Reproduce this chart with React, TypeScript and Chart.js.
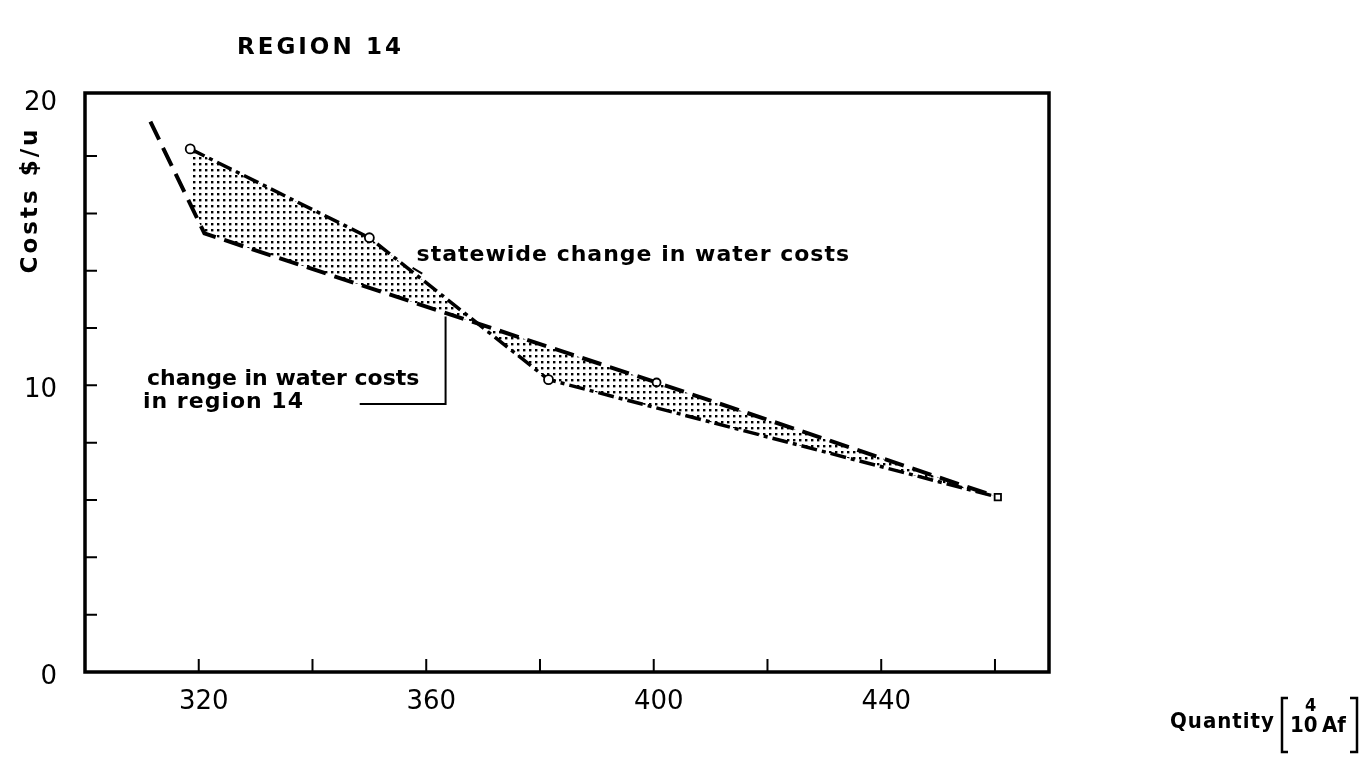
import React, { useEffect, useRef } from "react";
import { Chart, registerables } from "chart.js";

Chart.register(...registerables);

// ---- data ----
const statewideX = [318.5, 350, 381.5, 460.5];
const statewideY = [18.25, 15.15, 10.2, 6.1];
const regionX = [311.5, 321, 400.5, 460.5];
const regionY = [19.2, 15.3, 10.1, 6.1];

const xTickValues = [320, 340, 360, 380, 400, 420, 440, 460];
const xTickLabels = ["320", "", "360", "", "400", "", "440", ""];
const yTickValues = [0, 2, 4, 6, 8, 10, 12, 14, 16, 18, 20];
const yTickLabels = ["0", "", "", "", "", "10", "", "", "", "", "20"];

const titleText = "REGION";
const titleNumber = "14";
const yTitle = "Costs $/u";
const statewideLabel = "statewide change in water costs";
const regionLabelLines = ["change in water costs", "in region 14"];

const FONT = '"DejaVu Sans", sans-serif';
const FONT_C = '"DejaVu Sans Condensed", "DejaVu Sans", sans-serif';

function makeStipple(): CanvasPattern | string {
  const c = document.createElement("canvas");
  c.width = 6;
  c.height = 6;
  const p = c.getContext("2d");
  if (!p) return "rgba(0,0,0,0.3)";
  p.fillStyle = "#000";
  p.fillRect(1, 1, 2.4, 2.4);
  const pat = p.createPattern(c, "repeat");
  return pat || "rgba(0,0,0,0.3)";
}

const decorPlugin = {
  id: "decor",
  afterDraw(chart: any) {
    const { ctx, chartArea } = chart;
    const xs = chart.scales.x;
    const ys = chart.scales.y;
    const { left, right, top, bottom } = chartArea;
    ctx.save();
    ctx.strokeStyle = "#000";
    ctx.fillStyle = "#000";

    // frame
    ctx.lineWidth = 3.5;
    ctx.strokeRect(left, top, right - left, bottom - top);

    // inward ticks
    ctx.lineWidth = 2;
    ctx.beginPath();
    xTickValues.forEach((v) => {
      const px = xs.getPixelForValue(v);
      ctx.moveTo(px, bottom);
      ctx.lineTo(px, bottom - 13);
    });
    yTickValues.forEach((v) => {
      const py = ys.getPixelForValue(v);
      if (py < top + 8 || py > bottom - 8) return;
      ctx.moveTo(left, py);
      ctx.lineTo(left + 12, py);
    });
    ctx.stroke();

    // title
    ctx.textBaseline = "middle";
    ctx.textAlign = "left";
    ctx.font = `bold 23px ${FONT}`;
    (ctx as any).letterSpacing = "3px";
    ctx.fillText(titleText, 237, 48);
    ctx.fillText(titleNumber, 366, 48);

    // y title (rotated)
    ctx.save();
    ctx.translate(31, 200);
    ctx.rotate(-Math.PI / 2);
    ctx.textAlign = "center";
    ctx.font = `bold 23px ${FONT}`;
    (ctx as any).letterSpacing = "3px";
    ctx.fillText(yTitle, 0, 0);
    ctx.restore();

    // annotations
    ctx.font = `bold 22px ${FONT}`;
    (ctx as any).letterSpacing = "1px";
    ctx.textAlign = "left";
    ctx.fillText(statewideLabel, xs.getPixelForValue(358.3), ys.getPixelForValue(14.55));
    (ctx as any).letterSpacing = "0px";
    ctx.fillText(regionLabelLines[0], xs.getPixelForValue(310.9), ys.getPixelForValue(10.22));
    (ctx as any).letterSpacing = "1px";
    ctx.fillText(regionLabelLines[1], xs.getPixelForValue(310.2), ys.getPixelForValue(9.42));

    // leaders
    ctx.lineWidth = 2;
    ctx.beginPath();
    const lx0 = xs.getPixelForValue(348.3);
    const lx1 = xs.getPixelForValue(363.4);
    const ly0 = ys.getPixelForValue(9.35);
    const ly1 = ys.getPixelForValue(12.4);
    ctx.moveTo(lx0, ly0);
    ctx.lineTo(lx1, ly0);
    ctx.lineTo(lx1, ly1);
    ctx.moveTo(xs.getPixelForValue(357.6), ys.getPixelForValue(14.1));
    ctx.lineTo(xs.getPixelForValue(359.3), ys.getPixelForValue(13.9));
    ctx.stroke();

    // x title: Quantity [10^4 Af]
    (ctx as any).letterSpacing = "1px";
    ctx.font = `bold 22px ${FONT_C}`;
    ctx.fillText("Quantity", 1170, 722);
    (ctx as any).letterSpacing = "0px";
    ctx.fillText("10", 1290, 726);
    ctx.fillText("Af", 1322, 726);
    ctx.font = `bold 18px ${FONT_C}`;
    ctx.fillText("4", 1305, 706);
    ctx.lineWidth = 2.5;
    ctx.beginPath();
    ctx.moveTo(1288, 698);
    ctx.lineTo(1282, 698);
    ctx.lineTo(1282, 752);
    ctx.lineTo(1288, 752);
    ctx.moveTo(1350, 698);
    ctx.lineTo(1357, 698);
    ctx.lineTo(1357, 752);
    ctx.lineTo(1350, 752);
    ctx.stroke();

    ctx.restore();
  },
};

export default function App() {
  const ref = useRef<HTMLCanvasElement | null>(null);

  useEffect(() => {
    document.body.style.margin = "0";
    const canvas = ref.current;
    if (!canvas) return;
    const stipple = makeStipple();

    const chart = new Chart(canvas, {
      type: "line",
      data: {
        datasets: [
          {
            label: statewideLabel,
            data: statewideX.map((x, i) => ({ x, y: statewideY[i] })),
            borderColor: "#000",
            borderWidth: 3.5,
            borderDash: [16, 5, 4, 5],
            fill: "+1",
            backgroundColor: stipple as any,
            pointRadius: 4.5,
            pointStyle: ["circle", "circle", "circle", "rect"] as any,
            pointBackgroundColor: "#fff",
            pointBorderColor: "#000",
            pointBorderWidth: 1.8,
            tension: 0,
          },
          {
            label: regionLabelLines.join(" "),
            data: regionX.map((x, i) => ({ x, y: regionY[i] })),
            borderColor: "#000",
            borderWidth: 4,
            borderDash: [20, 9],
            fill: false,
            pointRadius: [0, 0, 4, 0] as any,
            pointBackgroundColor: "#fff",
            pointBorderColor: "#000",
            pointBorderWidth: 1.8,
            tension: 0,
          },
        ],
      },
      options: {
        responsive: false,
        animation: false,
        devicePixelRatio: 1,
        layout: { padding: { top: 93, right: 314, left: 0, bottom: 0 } },
        plugins: {
          legend: { display: false },
          title: { display: false },
          tooltip: { enabled: false },
        },
        scales: {
          x: {
            type: "linear",
            min: 300,
            max: 469.5,
            afterBuildTicks: (s: any) => {
              s.ticks = xTickValues.map((v) => ({ value: v }));
            },
            afterFit: (s: any) => {
              s.height = 90;
            },
            grid: { display: false },
            border: { display: false },
            ticks: {
              autoSkip: false,
              maxRotation: 0,
              padding: 7,
              labelOffset: 5,
              color: "#000",
              font: { family: FONT, size: 26 },
              callback: (_v: any, i: number) => xTickLabels[i],
            },
          },
          y: {
            type: "linear",
            min: 0,
            max: 20.2,
            afterBuildTicks: (s: any) => {
              s.ticks = yTickValues.map((v) => ({ value: v }));
            },
            afterFit: (s: any) => {
              s.width = 85;
            },
            grid: { display: false },
            border: { display: false },
            ticks: {
              autoSkip: false,
              padding: 20,
              labelOffset: 5,
              color: "#000",
              font: { family: FONT, size: 26 },
              callback: (_v: any, i: number) => yTickLabels[i],
            },
          },
        },
      },
      plugins: [decorPlugin],
    });

    return () => {
      chart.destroy();
    };
  }, []);

  return (
    <div style={{ position: "absolute", left: 0, top: 0, width: 1363, height: 762, background: "#fff" }}>
      <canvas ref={ref} width={1363} height={762} style={{ display: "block", width: 1363, height: 762 }} />
    </div>
  );
}
